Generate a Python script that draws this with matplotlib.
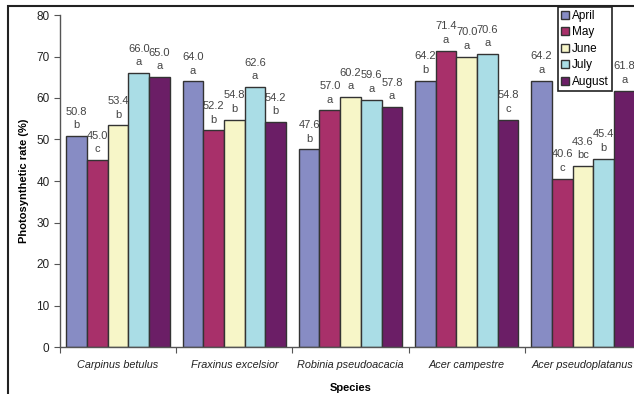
import matplotlib
matplotlib.use("Agg")
import matplotlib.pyplot as plt
import numpy as np
from matplotlib.patches import Rectangle

plt.rcParams["font.family"] = ["Liberation Sans", "DejaVu Sans"]

species = ["Carpinus betulus", "Fraxinus excelsior", "Robinia pseudoacacia",
           "Acer campestre", "Acer pseudoplatanus"]
months = ["April", "May", "June", "July", "August"]
colors = ["#878cc4", "#a8306a", "#f7f6c8", "#aadde6", "#6b1e66"]

# photosynthetic rate per month, one list per month across species
april = [50.8, 64.0, 47.6, 64.2, 64.2]
may = [45.0, 52.2, 57.0, 71.4, 40.6]
june = [53.4, 54.8, 60.2, 70.0, 43.6]
july = [66.0, 62.6, 59.6, 70.6, 45.4]
august = [65.0, 54.2, 57.8, 54.8, 61.8]

# significance letters
let_april = ["b", "a", "b", "b", "a"]
let_may = ["c", "b", "a", "a", "c"]
let_june = ["b", "b", "a", "a", "bc"]
let_july = ["a", "a", "a", "a", "b"]
let_august = ["a", "b", "a", "c", "a"]

values = [april, may, june, july, august]
letters = [let_april, let_may, let_june, let_july, let_august]

W, H = 634, 394
fig = plt.figure(figsize=(W / 100, H / 100), dpi=100)
ax = fig.add_axes([60 / W, 47 / H, 581 / W, 332 / H])

# outer frame of the figure (runs off right and bottom)
fig.patches.append(Rectangle((8 / W, -0.1), 1.2, 1.1 - 6 / H,
                             transform=fig.transFigure, fill=False,
                             edgecolor="#222222", linewidth=1.5))

bw = 0.178
x = np.arange(len(species))
txt = "#444444"
for i, (vals, lets) in enumerate(zip(values, letters)):
    pos = x + 0.5 + (i - 2) * bw
    ax.bar(pos, vals, width=bw, color=colors[i], edgecolor="#333333",
           linewidth=1.0, label=months[i], zorder=2)
    for px, v, l in zip(pos, vals, lets):
        ax.text(px, v + 1.4, l, ha="center", va="bottom", fontsize=8,
                color=txt)
        ax.text(px, v + 4.7, f"{v:.1f}", ha="center", va="bottom",
                fontsize=8, color=txt)

ax.set_ylim(0, 80)
ax.set_xlim(0, 5)
ax.set_yticks(range(0, 81, 10))
ax.set_xticks(range(0, 6))
ax.set_xticklabels([])
ax.set_xticks(x + 0.5, minor=True)
ax.set_xticklabels(species, minor=True, style="italic", fontsize=7.8,
                   color="#222222")
ax.tick_params(axis="x", which="minor", length=0, pad=9)
ax.tick_params(axis="x", which="major", length=4, color="#555555")
ax.tick_params(axis="y", length=4, labelsize=8.5, color="#555555",
               labelcolor="#222222")
for s in ("top", "right"):
    ax.spines[s].set_visible(False)
for s in ("left", "bottom"):
    ax.spines[s].set_color("#555555")
    ax.spines[s].set_linewidth(1.0)

ax.set_ylabel("Photosynthetic rate (%)", fontsize=8, fontweight="bold",
              labelpad=5)
ax.set_xlabel("Species", fontsize=8, fontweight="bold", labelpad=10)

leg = fig.legend(loc="upper left", bbox_to_anchor=(558 / W, 1 - 7 / H),
                 fontsize=8.5, frameon=True, fancybox=False, framealpha=1,
                 handlelength=0.7, handleheight=0.7, handletextpad=0.25,
                 labelspacing=0.38, borderpad=0.25, borderaxespad=0)
leg.get_frame().set_edgecolor("#222222")
leg.get_frame().set_linewidth(1.2)

fig.savefig("out.png", dpi=100)
